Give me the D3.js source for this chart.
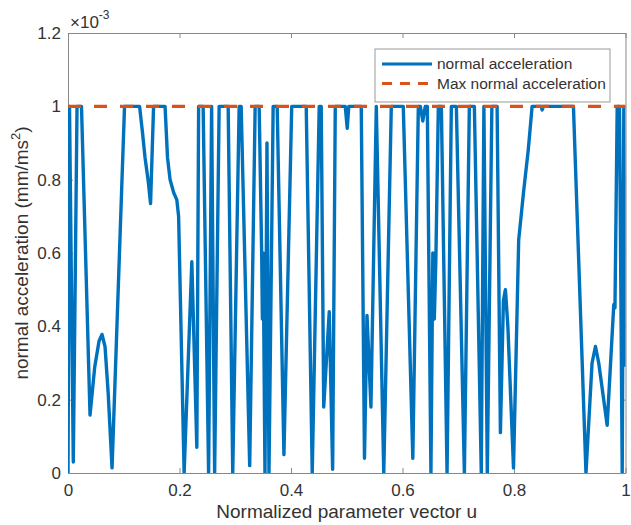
<!DOCTYPE html>
<html>
<head>
<meta charset="utf-8">
<script src="https://cdn.jsdelivr.net/npm/d3@7"></script>
<style>
  body { margin: 0; background: #fff; }
  text { font-family: "Liberation Sans", Arial, sans-serif; fill: #333; }
</style>
</head>
<body>
<div id="chart"></div>
<script>
// normalized parameter u
const u = [0, 0.0027, 0.0095, 0.0162, 0.0242, 0.0395, 0.048, 0.0557, 0.061, 0.0664, 0.072, 0.079,
  0.1014, 0.1284, 0.1335, 0.1382, 0.1436, 0.1481, 0.1535, 0.1741, 0.1785, 0.1831, 0.1895, 0.1952, 0.1984,
  0.2083, 0.2221, 0.2311, 0.2343, 0.2424, 0.2522, 0.2576, 0.263, 0.2711, 0.2873,
  0.2955, 0.307, 0.3106, 0.3259, 0.3357, 0.3429, 0.3474, 0.3487, 0.3501, 0.3533,
  0.3569, 0.3605, 0.368, 0.3752, 0.3873, 0.4013, 0.4273, 0.4381, 0.4506, 0.4542,
  0.4587, 0.4686, 0.4747, 0.4794, 0.4973, 0.5009, 0.5036, 0.526, 0.5318, 0.5363,
  0.5434, 0.553, 0.5664, 0.5799, 0.6014, 0.6185, 0.6284, 0.632, 0.6364, 0.6409,
  0.6445, 0.651, 0.6544, 0.6571, 0.6598, 0.6643, 0.6697, 0.6799, 0.6876, 0.6966,
  0.711, 0.7199, 0.7289, 0.7413, 0.746, 0.7521, 0.7603, 0.7697, 0.7756, 0.781, 0.7846, 0.789,
  0.7991, 0.8084, 0.8174, 0.8255, 0.8325, 0.8492, 0.8504, 0.8528, 0.9066, 0.9291, 0.94, 0.9461, 0.952,
  0.9671, 0.979, 0.9811, 0.9851, 0.9892, 0.9941, 0.997, 1];
// normal acceleration, in units of 1e-3 mm/ms^2
const accel = [0, 1, 0.03, 1, 1, 0.158, 0.29, 0.36, 0.378, 0.345, 0.22, 0.014,
  1, 1, 0.93, 0.86, 0.8, 0.735, 1, 1, 0.86, 0.8, 0.765, 0.745, 0.7,
  0, 0.576, 0.07, 1, 1, 0, 1, 0, 1, 1,
  0, 1, 1, 0.02, 1, 1, 0.6, 0.42, 0.6, 0,
  0.9, 0, 1, 1, 0.05, 1, 1, 0, 1, 1,
  0.18, 0.44, 0.01, 1, 1, 0.94, 1, 1, 0.04, 0.43,
  0.18, 1, 0, 1, 1, 0.04, 1, 1, 0.96, 1,
  1, 0, 0.6, 0.42, 0.58, 1, 1, 0, 1, 1,
  0, 1, 1, 0, 1, 0, 1, 1, 0.11, 0.47, 0.5, 0.4,
  0.014, 0.635, 0.77, 0.88, 1, 1, 0.99, 1, 1, 0, 0.3, 0.345, 0.3,
  0.13, 0.46, 0.45, 1, 1, 0, 1, 0.29];
const maxAccel = 1; // x 1e-3
const xTicks = [0, 0.2, 0.4, 0.6, 0.8, 1];
const yTicks = [0, 0.2, 0.4, 0.6, 0.8, 1, 1.2];
const legendNames = ["normal acceleration", "Max normal acceleration"];

const W = 631, H = 525;
const mLeft = 68, mRight = 625.5, mTop = 33, mBottom = 473;
const blue = "#0072BD", orange = "#D95319";

const svg = d3.select("#chart").append("svg")
  .attr("width", W).attr("height", H);

const x = d3.scaleLinear().domain([0, 1]).range([mLeft, mRight]);
const y = d3.scaleLinear().domain([0, 1.2]).range([mBottom, mTop]);

svg.append("defs").append("clipPath").attr("id", "clip")
  .append("rect")
  .attr("x", mLeft).attr("y", mTop)
  .attr("width", mRight - mLeft).attr("height", mBottom - mTop);

const fmt = d3.format("~g");

// axes, ticks pointing inward like matlab
function styleAxis(g) {
  g.selectAll("path.domain").attr("stroke", "#888").attr("stroke-width", 1);
  g.selectAll(".tick line").attr("stroke", "#888");
  g.selectAll(".tick text").style("font-size", "17px").attr("fill", "#333");
}

svg.append("g").attr("transform", "translate(0," + mBottom + ")")
  .call(d3.axisBottom(x).tickValues(xTicks).tickFormat(fmt)
    .tickSizeInner(-5).tickSizeOuter(0).tickPadding(11))
  .call(styleAxis);
svg.append("g").attr("transform", "translate(0," + mTop + ")")
  .call(d3.axisTop(x).tickValues(xTicks).tickFormat("")
    .tickSizeInner(-5).tickSizeOuter(0))
  .call(styleAxis);
svg.append("g").attr("transform", "translate(" + mLeft + ",0)")
  .call(d3.axisLeft(y).tickValues(yTicks).tickFormat(fmt)
    .tickSizeInner(-5).tickSizeOuter(0).tickPadding(7))
  .call(styleAxis);
svg.append("g").attr("transform", "translate(" + mRight + ",0)")
  .call(d3.axisRight(y).tickValues(yTicks).tickFormat("")
    .tickSizeInner(-5).tickSizeOuter(0))
  .call(styleAxis);

const plot = svg.append("g").attr("clip-path", "url(#clip)");

const line = d3.line()
  .x(d => x(d[0]))
  .y(d => y(d[1]));

plot.append("path")
  .datum(d3.zip(u, accel))
  .attr("fill", "none")
  .attr("stroke", blue)
  .attr("stroke-width", 3.4)
  .attr("stroke-linejoin", "round")
  .attr("d", line);

plot.append("path")
  .datum([[0, maxAccel], [1, maxAccel]])
  .attr("fill", "none")
  .attr("stroke", orange)
  .attr("stroke-width", 3.2)
  .attr("stroke-dasharray", "13,13")
  .attr("d", line);

// exponent
const ex = svg.append("text").attr("x", 70).attr("y", 28).style("font-size", "17px");
ex.append("tspan").text("\u00d710");
ex.append("tspan").attr("dy", -9).style("font-size", "12px").text("-3");

// axis labels
svg.append("text")
  .attr("x", (mLeft + mRight) / 2).attr("y", 518)
  .attr("text-anchor", "middle")
  .style("font-size", "19px")
  .text("Normalized parameter vector u");

const yl = svg.append("text")
  .attr("transform", "translate(28," + ((mTop + mBottom) / 2) + ") rotate(-90)")
  .attr("text-anchor", "middle")
  .style("font-size", "19px");
yl.append("tspan").text("normal acceleration (mm/ms");
yl.append("tspan").attr("dy", -8).style("font-size", "13px").text("2");
yl.append("tspan").attr("dy", 8).text(")");

// legend
const lg = svg.append("g").attr("transform", "translate(375,49)");
lg.append("rect")
  .attr("width", 235).attr("height", 53)
  .attr("fill", "#fff").attr("stroke", "#999").attr("stroke-width", 1);
const rows = lg.selectAll("g.row").data(legendNames).enter().append("g")
  .attr("class", "row")
  .attr("transform", (d, i) => "translate(0," + (15 + i * 19.5) + ")");
rows.append("line")
  .attr("x1", 7).attr("x2", 57)
  .attr("stroke", (d, i) => i === 0 ? blue : orange)
  .attr("stroke-width", 3)
  .attr("stroke-dasharray", (d, i) => i === 0 ? null : "10,8");
rows.append("text")
  .attr("x", 62).attr("dy", "0.35em")
  .style("font-size", "15.5px")
  .text(d => d);
</script>
</body>
</html>
